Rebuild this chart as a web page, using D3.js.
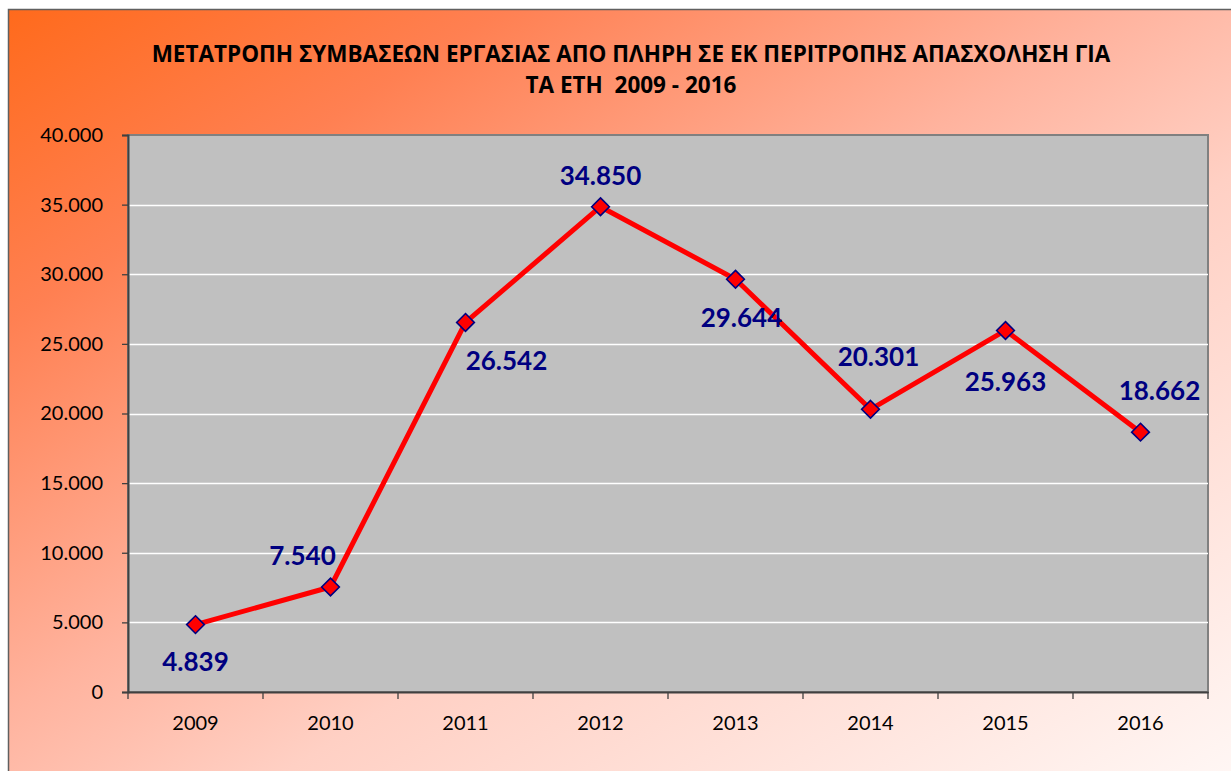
<!DOCTYPE html>
<html><head><meta charset="utf-8">
<script src="https://cdn.jsdelivr.net/npm/d3@7"></script>
<style>html,body{margin:0;padding:0;background:#fff;overflow:hidden}</style>
</head><body>
<svg id="chart" width="1231" height="771"></svg>
<script>
const years = ["2009","2010","2011","2012","2013","2014","2015","2016"];
const values = [4839, 7540, 26542, 34850, 29644, 20301, 25963, 18662];
const yTicks = [0,5000,10000,15000,20000,25000,30000,35000,40000];
const titleLines = ["ΜΕΤΑΤΡΟΠΗ ΣΥΜΒΑΣΕΩΝ ΕΡΓΑΣΙΑΣ ΑΠΟ ΠΛΗΡΗ ΣΕ ΕΚ ΠΕΡΙΤΡΟΠΗΣ ΑΠΑΣΧΟΛΗΣΗ ΓΙΑ","ΤΑ ΕΤΗ  2009 - 2016"];
// data-label placement offsets as in the original (px)
const labelOffsets = [[0,36],[-28,-32],[41,38],[0,-32],[6,38],[8,-53],[0,51],[19,-42]];

const svg = d3.select("#chart");
const defs = svg.append("defs");
const g = defs.append("linearGradient").attr("id","bg").attr("x1","0").attr("y1","0").attr("x2","1").attr("y2","1");
[["0","#ff6a1c"],["0.2","#ff8052"],["0.45","#ffb39e"],["0.6","#ffd0c4"],["1","#fff8f6"]]
  .forEach(s=>g.append("stop").attr("offset",s[0]).attr("stop-color",s[1]));

svg.append("rect").attr("x",8.5).attr("y",9.5).attr("width",1240).attr("height",780)
  .attr("fill","url(#bg)").attr("stroke","#606060").attr("stroke-width",1.5);

const m = {l:128, t:135, r:1208, b:692};
const x = d3.scaleBand().domain(years).range([m.l, m.r]).padding(0);
const y = d3.scaleLinear().domain([0,40000]).range([m.b, m.t]);

// plot area
svg.append("rect").attr("x",m.l).attr("y",m.t).attr("width",m.r-m.l).attr("height",m.b-m.t)
  .attr("fill","#c0c0c0").attr("stroke","#808080").attr("stroke-width",2);

// gridlines
svg.append("g").selectAll("line").data(yTicks.filter(d=>d>0 && d<40000)).join("line")
  .attr("x1",m.l).attr("x2",m.r).attr("y1",d=>Math.round(y(d))+0.5).attr("y2",d=>Math.round(y(d))+0.5)
  .attr("stroke","#ffffff").attr("stroke-width",1.3);

const fmt = v => v===0 ? "0" : d3.format(",")(v).replace(/,/g,".");
const font = "Lato, 'Open Sans', sans-serif";

// y axis
const ya = svg.append("g").attr("transform",`translate(${m.l},0)`)
  .call(d3.axisLeft(y).tickValues(yTicks).tickSize(6).tickPadding(19).tickFormat(fmt));
ya.select(".domain").attr("stroke","#404040").attr("stroke-width",2);
ya.selectAll(".tick line").attr("stroke","#404040").attr("stroke-width",1.3);
ya.selectAll("text").attr("font-family",font).attr("font-size",20).attr("fill","#000");

// x axis
const xa = svg.append("g").attr("transform",`translate(0,${m.b})`)
  .call(d3.axisBottom(x).tickSize(0).tickPadding(24));
xa.select(".domain").attr("stroke","#404040").attr("stroke-width",2);
xa.selectAll("text").attr("font-family",font).attr("font-size",20).attr("fill","#000");
svg.append("g").selectAll("line").data(d3.range(years.length+1)).join("line")
  .attr("x1",i=>m.l + i*x.bandwidth()).attr("x2",i=>m.l + i*x.bandwidth())
  .attr("y1",m.b).attr("y2",m.b+7).attr("stroke","#404040").attr("stroke-width",1.3);

// line
const pts = years.map((yr,i)=>[x(yr)+x.bandwidth()/2, y(values[i])]);
svg.append("path").attr("d", d3.line()(pts)).attr("fill","none").attr("stroke","#ff0000")
  .attr("stroke-width",5).attr("stroke-linejoin","round");

// markers
svg.append("g").selectAll("path").data(pts).join("path")
  .attr("transform",d=>`translate(${d[0]},${d[1]})`)
  .attr("d", d3.symbol().type(d3.symbolDiamond2).size(200))
  .attr("fill","#ff0000").attr("stroke","#000080").attr("stroke-width",1.6);

// labels
svg.append("g").selectAll("text").data(values).join("text")
  .attr("x",(d,i)=>pts[i][0]+labelOffsets[i][0])
  .attr("y",(d,i)=>pts[i][1]+labelOffsets[i][1])
  .attr("text-anchor","middle").attr("dominant-baseline","central")
  .attr("font-family",font).attr("font-weight","bold")
  .attr("font-size",26).attr("fill","#000080").text(d=>fmt(d));

// title
svg.append("g").selectAll("text").data(titleLines).join("text")
  .attr("x",631).attr("y",(d,i)=>62+i*31)
  .attr("text-anchor","middle")
  .attr("font-family","'Open Sans', 'Noto Sans', sans-serif").attr("font-weight","bold")
  .attr("font-size",22.5).attr("fill","#000")
  .style("white-space","pre").text(d=>d);
</script>
</body></html>
